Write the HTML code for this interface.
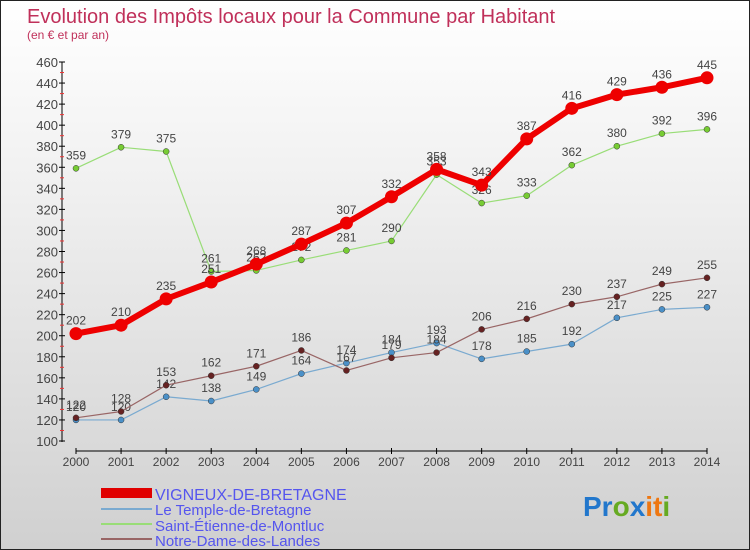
<!DOCTYPE html>
<html><head><meta charset="utf-8"><style>
body{margin:0}
#c{position:relative;width:748px;height:548px;border:1px solid #222;background:linear-gradient(#fff,#f2f2f2 30%,#d0d0d0);font-family:"Liberation Sans",sans-serif;overflow:hidden}
</style></head><body>
<div id="c">
<svg width="748" height="548" style="position:absolute;left:0;top:0">
<text x="26" y="22" font-size="20" fill="#c0305a">Evolution des Impôts locaux pour la Commune par Habitant</text>
<text x="26" y="38" font-size="12" fill="#c0305a">(en € et par an)</text>
<g id="axes"></g><g id="series"></g>
<g font-size="15" fill="#5555ee">
<rect x="100" y="487" width="51" height="10" fill="#e00000"/>
<text x="154" y="499" font-size="16">VIGNEUX-DE-BRETAGNE</text>
<rect x="100" y="507" width="51" height="2" fill="#7aaad0"/>
<text x="154" y="514">Le Temple-de-Bretagne</text>
<rect x="100" y="522" width="51" height="2" fill="#99dd77"/>
<text x="154" y="530">Saint-Étienne-de-Montluc</text>
<rect x="100" y="537" width="51" height="2" fill="#996666"/>
<text x="154" y="545">Notre-Dame-des-Landes</text>
</g>
<text x="582" y="515" font-size="28" font-weight="bold"><tspan fill="#2277cc">Pr</tspan><tspan fill="#66aa22">o</tspan><tspan fill="#2277cc">x</tspan><tspan fill="#ee7711">it</tspan><tspan fill="#66aa22">i</tspan></text>
</svg>
</div>
<script>
const years=[2000,2001,2002,2003,2004,2005,2006,2007,2008,2009,2010,2011,2012,2013,2014];
const yTicks=[100,120,140,160,180,200,220,240,260,280,300,320,340,360,380,400,420,440,460];
const vigneux=[202,210,235,251,268,287,307,332,358,343,387,416,429,436,445];
const temple=[120,120,142,138,149,164,174,184,193,178,185,192,217,225,227];
const stEtienne=[359,379,375,261,262,272,281,290,353,326,333,362,380,392,396];
const notreDame=[122,128,153,162,171,186,167,179,184,206,216,230,237,249,255];
const NS='http://www.w3.org/2000/svg';
const X=i=>75+i*(706-75)/(years.length-1);
const Y=v=>440-(v-100)*(440-61)/360;
function el(t,a,p){const e=document.createElementNS(NS,t);for(const k in a)e.setAttribute(k,a[k]);p.appendChild(e);return e;}
const ax=document.getElementById('axes'),sg=document.getElementById('series');
let yl=el('line',{x1:61,y1:61,x2:61,y2:441,stroke:'#000'},ax);


yTicks.forEach(v=>{el('line',{x1:58,x2:64,y1:Y(v),y2:Y(v),stroke:'#000'},ax);
 if(v<460)el('line',{x1:59,x2:63,y1:Y(v+10),y2:Y(v+10),stroke:'#e33'},ax);
 const t=el('text',{x:57,y:Y(v)+5,'text-anchor':'end','font-size':13,fill:'#444'},ax);t.textContent=v;
 
 });
let xl=el('line',{x1:75,y1:450,x2:706,y2:450,stroke:'#000'},ax);


years.forEach((y,i)=>{el('line',{x1:X(i),x2:X(i),y1:447,y2:453,stroke:'#000'},ax);
 const t=el('text',{x:X(i),y:465,'text-anchor':'middle','font-size':12,fill:'#444'},ax);t.textContent=y;
 
 });
function series(data,color,w,r,mc,name){
 const g=el('g',{},sg);
 
 
 el('polyline',{points:data.map((v,i)=>X(i)+','+Y(v)).join(' '),fill:'none',stroke:color,'stroke-width':w,'stroke-linejoin':'round'},g);
 data.forEach((v,i)=>{const c=el('circle',{cx:X(i),cy:Y(v),r:r,fill:mc,stroke:r>4?'none':'#333','stroke-width':0.5},g);
  
  
  const t=el('text',{x:X(i),y:Y(v)-9,'text-anchor':'middle','font-size':12,fill:'#444'},g);t.textContent=v;
  
  });
}
series(temple,'#7aaad0',1.2,3,'#4a90c8','temple-series');
series(notreDame,'#996666',1.2,3,'#662222','notre-dame-series');
series(stEtienne,'#99dd77',1.2,3,'#77cc33','saint-etienne-series');
series(vigneux,'#ee0000',6,6.5,'#ee0000','vigneux-series');
</script>
</body></html>
